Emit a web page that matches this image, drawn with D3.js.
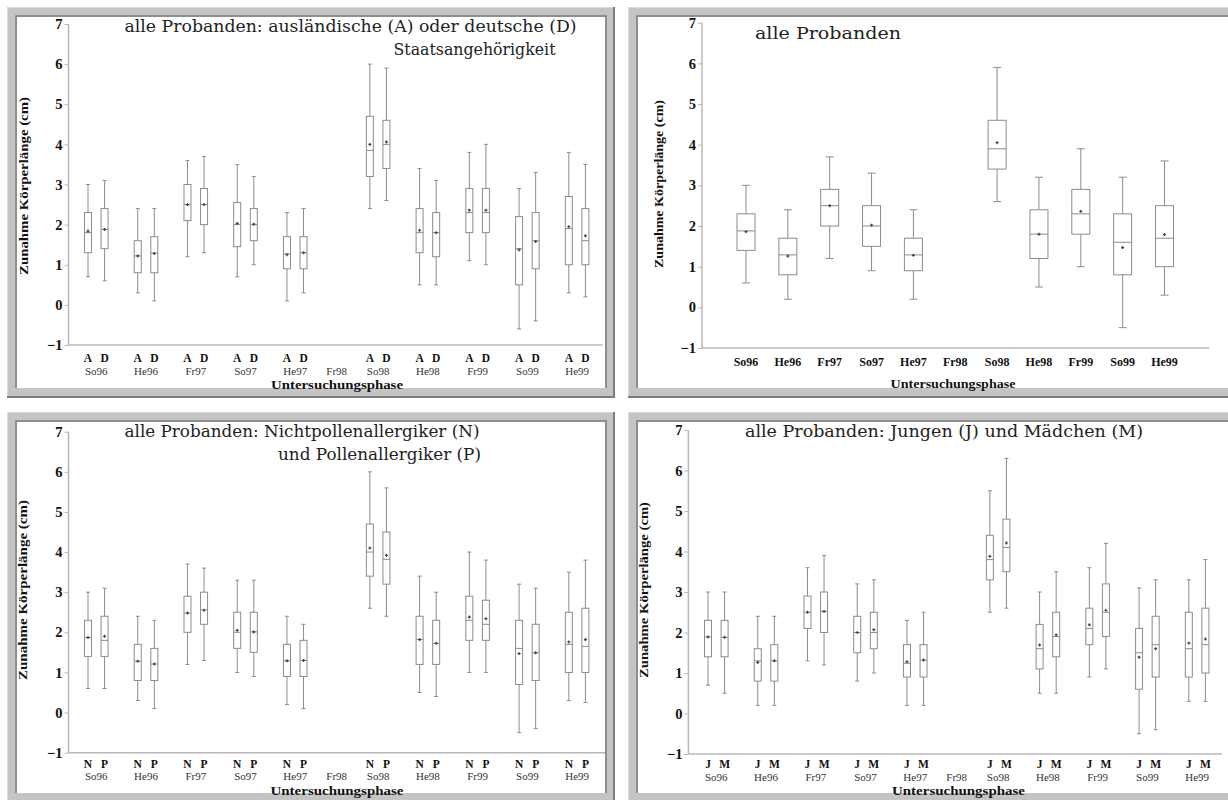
<!DOCTYPE html>
<html>
<head>
<meta charset="utf-8">
<script src="https://cdn.jsdelivr.net/npm/d3@7"></script>
<style>
  body { margin: 0; background: #fff; }
  svg { display: block; }
</style>
</head>
<body>
<div id="chart"></div>
<script>
// Untersuchungsphasen (Fr98 hat keine Daten)
const phases = ["So96", "He96", "Fr97", "So97", "He97", "Fr98", "So98", "He98", "Fr99", "So99", "He99"];
const yTicks = [-1, 0, 1, 2, 3, 4, 5, 6, 7];

// each row: [min, q1, median, q3, max, mean]
const statsAlle = [
  [0.6, 1.4, 1.88, 2.3, 3.0, 1.86],
  [0.2, 0.8, 1.29, 1.7, 2.4, 1.26],
  [1.2, 2.0, 2.5, 2.9, 3.7, 2.5],
  [0.9, 1.5, 2.0, 2.5, 3.3, 2.02],
  [0.2, 0.9, 1.29, 1.7, 2.4, 1.28],
  null,
  [2.6, 3.4, 3.9, 4.6, 5.9, 4.05],
  [0.5, 1.2, 1.8, 2.4, 3.2, 1.8],
  [1.0, 1.8, 2.3, 2.9, 3.9, 2.36],
  [-0.5, 0.8, 1.6, 2.3, 3.2, 1.47],
  [0.3, 1.0, 1.7, 2.5, 3.6, 1.79]
];
const statsAuslaendisch = [
  [0.7, 1.3, 1.8, 2.3, 3.0, 1.84],
  [0.3, 0.8, 1.22, 1.6, 2.4, 1.22],
  [1.2, 2.1, 2.5, 3.0, 3.6, 2.5],
  [0.7, 1.45, 2.0, 2.55, 3.5, 2.03],
  [0.1, 0.9, 1.27, 1.7, 2.3, 1.25],
  null,
  [2.4, 3.2, 3.85, 4.7, 6.0, 4.0],
  [0.5, 1.3, 1.8, 2.4, 3.4, 1.86],
  [1.1, 1.8, 2.3, 2.9, 3.8, 2.36],
  [-0.6, 0.5, 1.4, 2.2, 2.9, 1.37],
  [0.3, 1.0, 1.9, 2.7, 3.8, 1.95]
];
const statsDeutsch = [
  [0.6, 1.4, 1.88, 2.4, 3.1, 1.88],
  [0.1, 0.8, 1.29, 1.7, 2.4, 1.28],
  [1.3, 2.0, 2.5, 2.9, 3.7, 2.5],
  [1.0, 1.6, 2.0, 2.4, 3.2, 2.01],
  [0.3, 0.9, 1.3, 1.7, 2.4, 1.3],
  null,
  [2.6, 3.4, 4.0, 4.6, 5.9, 4.06],
  [0.5, 1.2, 1.8, 2.3, 3.1, 1.8],
  [1.0, 1.8, 2.3, 2.9, 4.0, 2.36],
  [-0.4, 0.9, 1.6, 2.3, 3.3, 1.58],
  [0.2, 1.0, 1.6, 2.4, 3.5, 1.72]
];
const statsNichtallergiker = [
  [0.6, 1.4, 1.87, 2.3, 3.0, 1.87],
  [0.3, 0.8, 1.28, 1.7, 2.4, 1.28],
  [1.2, 2.0, 2.48, 2.9, 3.7, 2.48],
  [1.0, 1.6, 2.0, 2.5, 3.3, 2.05],
  [0.2, 0.9, 1.29, 1.7, 2.4, 1.29],
  null,
  [2.6, 3.4, 4.0, 4.7, 6.0, 4.1],
  [0.5, 1.2, 1.82, 2.4, 3.4, 1.82],
  [1.0, 1.8, 2.3, 2.9, 4.0, 2.38],
  [-0.5, 0.7, 1.6, 2.3, 3.2, 1.47],
  [0.3, 1.0, 1.7, 2.5, 3.5, 1.76]
];
const statsPollenallergiker = [
  [0.6, 1.4, 1.8, 2.4, 3.1, 1.9],
  [0.1, 0.8, 1.21, 1.6, 2.3, 1.21],
  [1.3, 2.2, 2.56, 3.0, 3.6, 2.55],
  [0.9, 1.5, 2.01, 2.5, 3.3, 2.01],
  [0.1, 0.9, 1.3, 1.8, 2.2, 1.3],
  null,
  [2.4, 3.2, 3.82, 4.5, 5.6, 3.92],
  [0.4, 1.2, 1.72, 2.3, 3.0, 1.73],
  [1.0, 1.8, 2.2, 2.8, 3.8, 2.34],
  [-0.4, 0.8, 1.49, 2.2, 3.1, 1.49],
  [0.25, 1.0, 1.65, 2.6, 3.8, 1.82]
];
const statsJungen = [
  [0.7, 1.4, 1.89, 2.3, 3.0, 1.89],
  [0.2, 0.8, 1.3, 1.6, 2.4, 1.26],
  [1.3, 2.1, 2.5, 2.9, 3.6, 2.5],
  [0.8, 1.5, 2.0, 2.4, 3.2, 2.0],
  [0.2, 0.9, 1.24, 1.7, 2.3, 1.28],
  null,
  [2.5, 3.3, 3.8, 4.4, 5.5, 3.88],
  [0.5, 1.1, 1.6, 2.2, 3.0, 1.69],
  [0.9, 1.7, 2.1, 2.6, 3.6, 2.19],
  [-0.5, 0.6, 1.5, 2.1, 3.1, 1.39],
  [0.3, 0.9, 1.6, 2.5, 3.3, 1.74]
];
const statsMaedchen = [
  [0.5, 1.4, 1.88, 2.3, 3.0, 1.88],
  [0.2, 0.8, 1.3, 1.7, 2.4, 1.3],
  [1.2, 2.0, 2.52, 3.0, 3.9, 2.52],
  [1.0, 1.6, 2.0, 2.5, 3.3, 2.07],
  [0.2, 0.9, 1.32, 1.7, 2.5, 1.32],
  null,
  [2.6, 3.5, 4.1, 4.8, 6.3, 4.21],
  [0.5, 1.4, 1.9, 2.5, 3.5, 1.94],
  [1.1, 1.9, 2.5, 3.2, 4.2, 2.55],
  [-0.4, 0.9, 1.7, 2.4, 3.3, 1.6],
  [0.3, 1.0, 1.7, 2.6, 3.8, 1.84]
];

const yTitle = "Zunahme Körperlänge (cm)";
const xTitle = "Untersuchungsphase";

const serif = "'DejaVu Serif', serif";
const times = "'Liberation Serif', 'Times New Roman', serif";

const panels = [
  {
    frame: [7, 7, 608, 391],
    axisX: 68.5, axisEnd: 603, y7: 24, yM1: 345,
    slot0: 88, slotN: 585.4,
    groups: ["A", "D"], series: [statsAuslaendisch, statsDeutsch],
    boxW: 7, capW: 4,
    letterY: 362, phaseY: 374.5, phaseBold: false,
    xTitleX: 337, xTitleY: 389, xTitleLen: 132,
    yTitleX: 23.5, yTitleY: 186, yTitleLen: 178,
    titles: [
      { text: "alle Probanden: ausländische (A) oder deutsche (D)", x: 124.5, y: 32, len: 452 },
      { text: "Staatsangehörigkeit", x: 393.5, y: 55, len: 162 }
    ]
  },
  {
    frame: [628, 7, 640, 391],
    axisX: 702, axisEnd: 1209, y7: 22.7, yM1: 348,
    slot0: 746, slotN: 1164.5,
    groups: [""], series: [statsAlle],
    boxW: 18, capW: 8,
    letterY: null, phaseY: 366, phaseBold: true,
    xTitleX: 953, xTitleY: 388, xTitleLen: 125,
    yTitleX: 658, yTitleY: 184, yTitleLen: 168,
    titles: [
      { text: "alle Probanden", x: 755, y: 39, len: 146 }
    ]
  },
  {
    frame: [7, 412, 608, 391],
    axisX: 68.5, axisEnd: 605, y7: 431.7, yM1: 752.7,
    slot0: 88, slotN: 585.4,
    groups: ["N", "P"], series: [statsNichtallergiker, statsPollenallergiker],
    boxW: 7, capW: 4,
    letterY: 767.5, phaseY: 780, phaseBold: false,
    xTitleX: 337, xTitleY: 794.5, xTitleLen: 133,
    yTitleX: 22.7, yTitleY: 590, yTitleLen: 180,
    titles: [
      { text: "alle Probanden: Nichtpollenallergiker (N)", x: 124.5, y: 437, len: 355 },
      { text: "und Pollenallergiker (P)", x: 278, y: 460, len: 203 }
    ]
  },
  {
    frame: [628, 412, 640, 391],
    axisX: 688.4, axisEnd: 1222, y7: 430, yM1: 754,
    slot0: 708, slotN: 1205.4,
    groups: ["J", "M"], series: [statsJungen, statsMaedchen],
    boxW: 7, capW: 4,
    letterY: 768, phaseY: 780.5, phaseBold: false,
    xTitleX: 958.5, xTitleY: 794.5, xTitleLen: 133,
    yTitleX: 643, yTitleY: 590, yTitleLen: 176,
    titles: [
      { text: "alle Probanden: Jungen (J) und Mädchen (M)", x: 745, y: 437, len: 398 }
    ]
  }
];

const svg = d3.select("#chart")
  .append("svg")
  .attr("width", 1228)
  .attr("height", 800);

function drawFrame(g, [fx, fy, fw, fh]) {
  const b = 10;
  g.append("rect").attr("x", fx).attr("y", fy).attr("width", fw).attr("height", fh)
    .attr("fill", "#c4c4c4");
  g.append("rect").attr("x", fx + b).attr("y", fy + b).attr("width", fw - 2 * b).attr("height", fh - 2 * b)
    .attr("fill", "#fff");
  // dunkle Kanten (Relief)
  const dark = "#7c7c7c";
  g.append("path")
    .attr("d", `M${fx + b - 1},${fy + fh - b}V${fy + b - 1}H${fx + fw - b + 1}V${fy + fh - b}`)
    .attr("fill", "none").attr("stroke", dark).attr("stroke-width", 1.5);
  g.append("path")
    .attr("d", `M${fx},${fy + fh - 1}H${fx + fw - 1}V${fy}`)
    .attr("fill", "none").attr("stroke", dark).attr("stroke-width", 2);
  g.append("path")
    .attr("d", `M${fx + 0.5},${fy + fh - 2}V${fy + 0.5}H${fx + fw - 2}`)
    .attr("fill", "none").attr("stroke", "#dadada").attr("stroke-width", 1);
}

panels.forEach((p) => {
  const g = svg.append("g");
  drawFrame(g, p.frame);

  // slots: pro Phase eine Position je Gruppe, Lücke zwischen den Phasen
  const paired = p.series.length > 1;
  const keys = [];
  phases.forEach((ph, i) => {
    if (paired && i > 0) keys.push("gap" + i);
    if (paired && p.series[0][i]) p.groups.forEach((gr) => keys.push(ph + "|" + gr));
    else keys.push(ph + "|");
  });
  const x = d3.scalePoint().domain(keys).range([p.slot0, p.slotN]);
  const y = d3.scaleLinear().domain([-1, 7]).range([p.yM1, p.y7]);

  // Achsen
  const yAxis = g.append("g")
    .attr("transform", `translate(${p.axisX},0)`)
    .call(d3.axisLeft(y).tickValues(yTicks).tickSize(4).tickPadding(2).tickFormat(d3.format("d")));
  yAxis.select(".domain").attr("stroke", "#b8b8b8").attr("stroke-width", 1.5)
    .attr("d", `M0,${p.yM1}V${p.y7}`);
  yAxis.selectAll(".tick line").attr("stroke", "#b8b8b8");
  yAxis.selectAll(".tick text")
    .attr("font-family", times).attr("font-weight", "bold").attr("font-size", 14.5)
    .attr("fill", "#111");

  g.append("line")
    .attr("x1", p.axisX).attr("x2", p.axisEnd)
    .attr("y1", y(-1)).attr("y2", y(-1))
    .attr("stroke", "#b8b8b8").attr("stroke-width", 1.5);

  // Boxplots
  p.series.forEach((ser, si) => {
    const grp = p.groups[si];
    const boxes = g.append("g")
      .selectAll("g")
      .data(phases.map((ph, i) => ({ ph, s: ser[i] })).filter((d) => d.s))
      .join("g")
      .attr("transform", (d) => `translate(${x(d.ph + "|" + (paired ? grp : ""))},0)`);
    const stroke = "#8c8c8c";
    boxes.append("line")
      .attr("y1", (d) => y(d.s[0])).attr("y2", (d) => y(d.s[1]))
      .attr("stroke", stroke);
    boxes.append("line")
      .attr("y1", (d) => y(d.s[3])).attr("y2", (d) => y(d.s[4]))
      .attr("stroke", stroke);
    boxes.append("line")
      .attr("x1", -p.capW / 2).attr("x2", p.capW / 2)
      .attr("y1", (d) => y(d.s[0])).attr("y2", (d) => y(d.s[0]))
      .attr("stroke", stroke);
    boxes.append("line")
      .attr("x1", -p.capW / 2).attr("x2", p.capW / 2)
      .attr("y1", (d) => y(d.s[4])).attr("y2", (d) => y(d.s[4]))
      .attr("stroke", stroke);
    boxes.append("rect")
      .attr("x", -p.boxW / 2).attr("width", p.boxW)
      .attr("y", (d) => y(d.s[3])).attr("height", (d) => y(d.s[1]) - y(d.s[3]))
      .attr("fill", "#fff").attr("stroke", stroke);
    boxes.append("line")
      .attr("x1", -p.boxW / 2).attr("x2", p.boxW / 2)
      .attr("y1", (d) => y(d.s[2])).attr("y2", (d) => y(d.s[2]))
      .attr("stroke", stroke);
    boxes.append("path")
      .attr("d", (d) => `M-1.5,${y(d.s[5])}h3M0,${y(d.s[5]) - 1.5}v3`)
      .attr("stroke", "#444").attr("stroke-width", 1.2);
  });

  // x-Beschriftung
  phases.forEach((ph, i) => {
    const slots = keys.filter((k) => k.startsWith(ph + "|"));
    const cx = d3.mean(slots, (k) => x(k));
    if (paired && p.series[0][i]) {
      p.groups.forEach((gr) => {
        g.append("text")
          .attr("x", x(ph + "|" + gr)).attr("y", p.letterY)
          .attr("text-anchor", "middle")
          .attr("font-family", times).attr("font-weight", "bold").attr("font-size", 11.5)
          .attr("fill", "#111")
          .text(gr);
      });
    }
    g.append("text")
      .attr("x", cx).attr("y", p.phaseY)
      .attr("text-anchor", "middle")
      .attr("font-family", times)
      .attr("font-weight", p.phaseBold ? "bold" : "normal")
      .attr("font-size", p.phaseBold ? 12 : 11)
      .attr("fill", p.phaseBold ? "#111" : "#333")
      .text(ph);
  });

  g.append("text")
    .attr("x", p.xTitleX).attr("y", p.xTitleY)
    .attr("text-anchor", "middle")
    .attr("font-family", times).attr("font-weight", "bold").attr("font-size", 13)
    .attr("textLength", p.xTitleLen).attr("lengthAdjust", "spacingAndGlyphs")
    .attr("fill", "#111")
    .text(xTitle);

  g.append("text")
    .attr("transform", `translate(${p.yTitleX},${p.yTitleY}) rotate(-90)`)
    .attr("dy", "0.35em")
    .attr("text-anchor", "middle")
    .attr("font-family", times).attr("font-weight", "bold").attr("font-size", 13.5)
    .attr("textLength", p.yTitleLen).attr("lengthAdjust", "spacingAndGlyphs")
    .attr("fill", "#111")
    .text(yTitle);

  // Titel
  p.titles.forEach((t) => {
    g.append("text")
      .attr("x", t.x).attr("y", t.y)
      .attr("font-family", serif).attr("font-size", 16.5)
      .attr("textLength", t.len).attr("lengthAdjust", "spacingAndGlyphs")
      .attr("fill", "#222")
      .text(t.text);
  });
});
</script>
</body>
</html>
